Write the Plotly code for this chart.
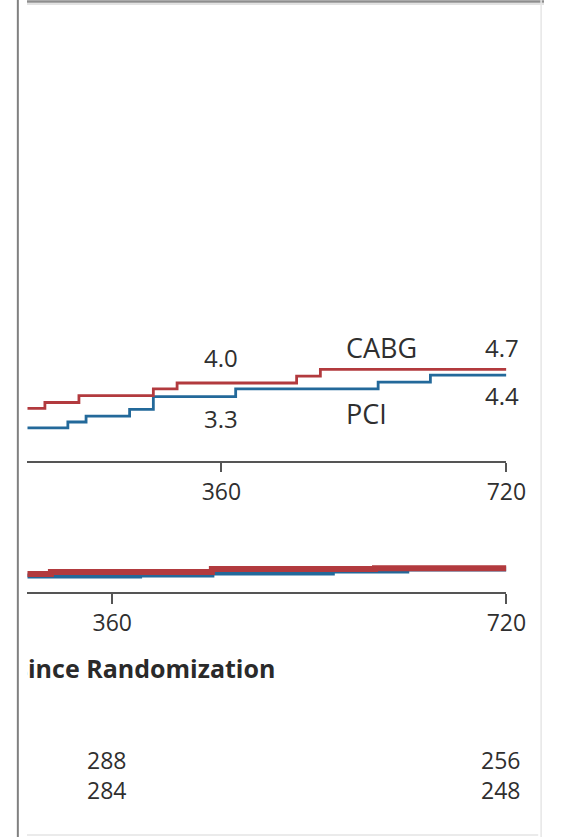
import plotly.graph_objects as go

W, H = 564, 837

# Cumulative event rate (%) by days since randomization, upper panel
cabg_days = [100, 137, 180, 274, 304, 455, 485, 720]
cabg_rate = [2.7, 3.0, 3.35, 3.7, 4.0, 4.35, 4.7, 4.7]
pci_days = [100, 166, 189, 244, 274, 378, 558, 624, 720]
pci_rate = [1.7, 2.0, 2.3, 2.65, 3.3, 3.7, 4.05, 4.4, 4.4]

# Lower panel
cabg_days_b = [260, 304, 451, 600, 720]
cabg_rate_b = [2.57, 2.86, 3.29, 3.4, 3.4]
pci_days_b = [260, 385, 451, 561, 629, 720]
pci_rate_b = [2.29, 2.43, 2.71, 3.0, 3.29, 3.29]

tick_days = [360, 720]
tick_text = ["360", "720"]
risk_days = [360, 720]
at_risk_cabg = ["288", "256"]
at_risk_pci = ["284", "248"]

RED = "#b23a3e"
BLUE = "#23699a"
TXT = "#2f2f2f"
FONT = "Open Sans"


def px(x):
    return x / W


def py(y):
    return 1 - y / H


fig = go.Figure()

fig.add_trace(go.Scatter(x=pci_days, y=pci_rate, mode="lines", line_shape="hv",
                         line=dict(color=BLUE, width=2.8), xaxis="x", yaxis="y"))
fig.add_trace(go.Scatter(x=cabg_days, y=cabg_rate, mode="lines", line_shape="hv",
                         line=dict(color=RED, width=2.8), xaxis="x", yaxis="y"))

fig.add_trace(go.Scatter(x=pci_days_b, y=pci_rate_b, mode="lines", line_shape="hv",
                         line=dict(color=BLUE, width=5), xaxis="x2", yaxis="y2"))
fig.add_trace(go.Scatter(x=cabg_days_b, y=cabg_rate_b, mode="lines", line_shape="hv",
                         line=dict(color=RED, width=6), xaxis="x2", yaxis="y2"))

# axis title, clipped at the left edge of the plotting area
fig.add_trace(go.Scatter(x=[509], y=[0.5], mode="text", text=["Days since Randomization"],
                         textposition="middle left", cliponaxis=True,
                         textfont=dict(family=FONT, size=25, color="#2a2a2a", weight="bold"),
                         xaxis="x3", yaxis="y3"))

axis_common = dict(showline=True, linecolor="#555555", linewidth=1.5, ticks="outside",
                   tickwidth=1.5, tickcolor="#555555", tickvals=tick_days, ticktext=tick_text,
                   showgrid=False, zeroline=False,
                   tickfont=dict(family=FONT, size=23, color=TXT))

upper_k = 19.5  # pixels per percentage point
lower_k = 7.0

fig.update_layout(
    width=W, height=H, margin=dict(l=0, r=0, t=0, b=0),
    paper_bgcolor="white", plot_bgcolor="white", showlegend=False,
    xaxis=dict(domain=[px(28.5), px(525)], range=[115, 720], ticklen=9,
               ticklabelstandoff=1, anchor="y", **axis_common),
    yaxis=dict(domain=[py(461), py(10)], range=[0, (461 - 10) / upper_k], visible=False),
    xaxis2=dict(domain=[px(28.5), px(525)], range=[282.6, 720], ticklen=10,
                ticklabelstandoff=0, anchor="y2", **axis_common),
    yaxis2=dict(domain=[py(592), py(520)], range=[0, (592 - 520) / lower_k], visible=False),
    xaxis3=dict(domain=[px(28.5), px(525)], range=[282.6, 720], visible=False, anchor="y3"),
    yaxis3=dict(domain=[py(697), py(647)], range=[0, 1], visible=False),
)

ann = []
lab = dict(font=dict(family=FONT, size=24, color=TXT), showarrow=False, xref="x", yref="y")
name = dict(font=dict(family=FONT, size=27, color=TXT), showarrow=False, xref="x", yref="y",
            xanchor="left")
ann.append(dict(text="4.0", x=360, y=4.0, yshift=26, **lab))
ann.append(dict(text="3.3", x=360, y=3.3, yshift=-22, **lab))
ann.append(dict(text="4.7", x=720, y=4.7, yshift=22, xshift=-4, **lab))
ann.append(dict(text="4.4", x=720, y=4.4, yshift=-20, xshift=-4, **lab))
ann.append(dict(text="CABG", x=515, y=4.7, yshift=22, **name))
ann.append(dict(text="PCI", x=515, y=4.4, yshift=-38, **name))

for d, a, b in zip(risk_days, at_risk_cabg, at_risk_pci):
    for txt, yy in ((a, 760), (b, 790)):
        ann.append(dict(text=txt, x=d, xref="x2", y=py(yy), yref="paper", yanchor="middle",
                        xshift=-6, showarrow=False,
                        font=dict(family=FONT, size=23, color=TXT)))

fig.update_layout(annotations=ann)

# frame lines of the figure panel
shapes = [
    dict(type="line", xref="paper", yref="paper", x0=px(18.5), x1=px(18.5), y0=0, y1=1,
         line=dict(color="#808080", width=2)),
    dict(type="line", xref="paper", yref="paper", x0=px(28), x1=1, y0=py(1.5), y1=py(1.5),
         line=dict(color="#8e8e8e", width=2.5)),
    dict(type="line", xref="paper", yref="paper", x0=px(28), x1=1, y0=py(4), y1=py(4),
         line=dict(color="#d8d8d8", width=1.5)),
    dict(type="line", xref="paper", yref="paper", x0=px(561), x1=px(561), y0=0, y1=1,
         line=dict(color="#e6e6e6", width=1.5)),
    dict(type="line", xref="paper", yref="paper", x0=px(28), x1=px(558), y0=py(835), y1=py(835),
         line=dict(color="#e4e4e4", width=1.5)),
]
fig.update_layout(shapes=shapes)

fig.write_html("out.html")
